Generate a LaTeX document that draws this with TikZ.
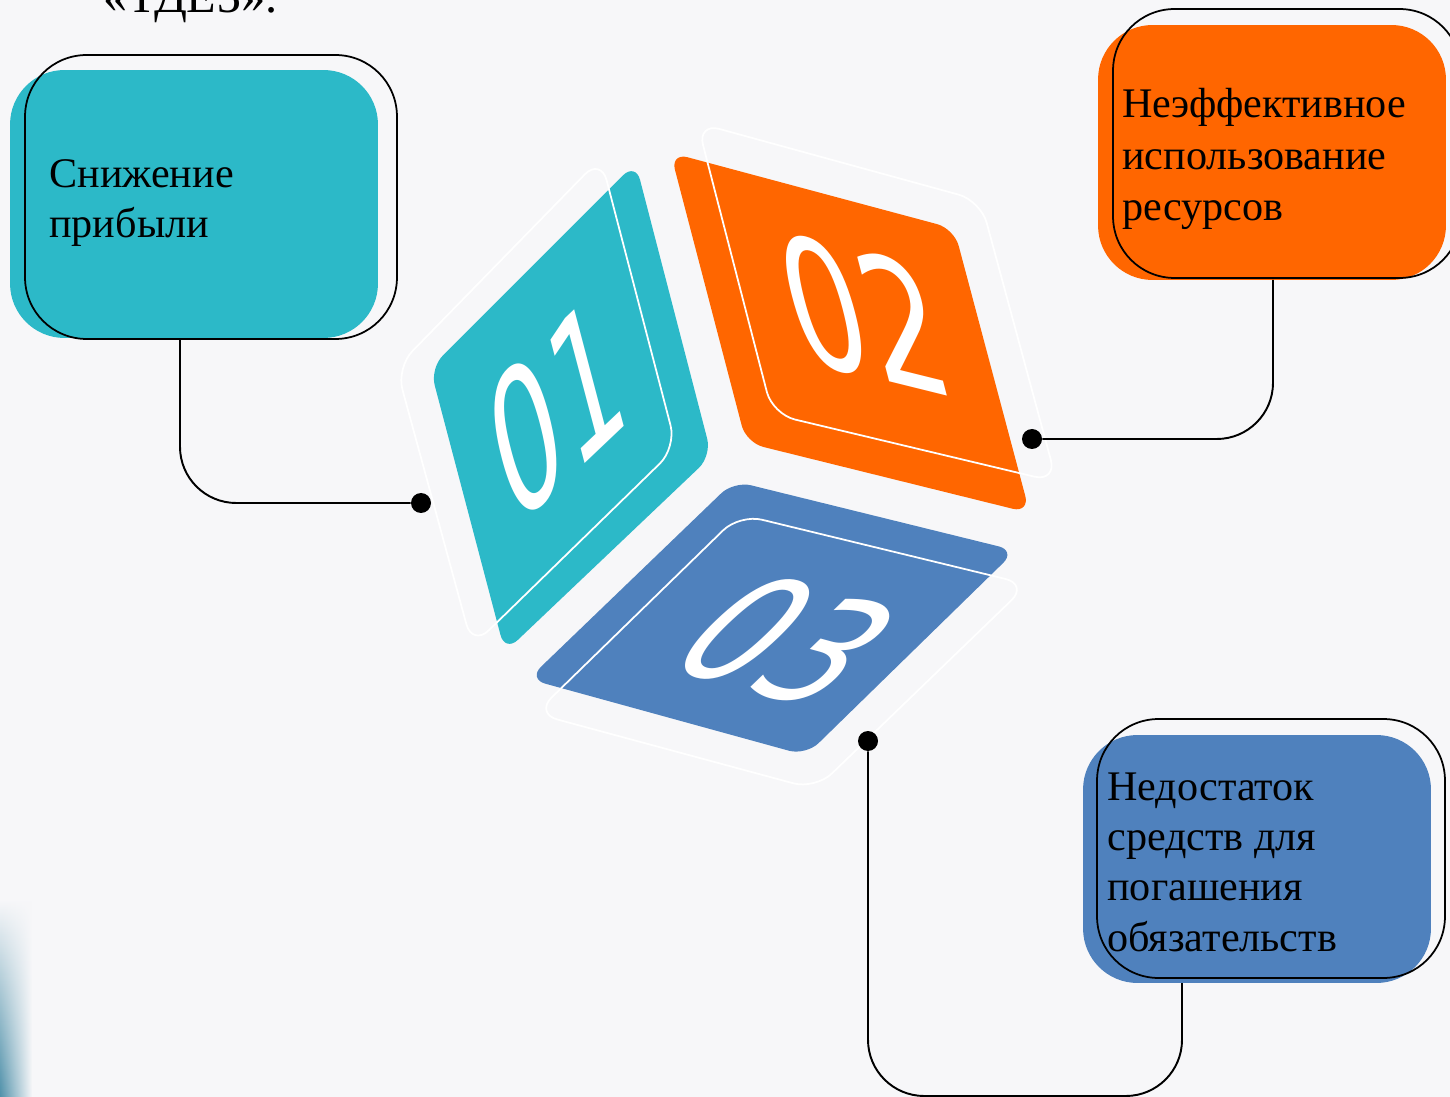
\documentclass[tikz,border=0pt]{standalone}
\usepackage{fontspec}
\setmainfont{Liberation Serif}
\newfontfamily\numfont{DejaVu Sans}
\usetikzlibrary{fadings}
\definecolor{bgc}{HTML}{F7F7F9}
\definecolor{tealc}{HTML}{2CB9C8}
\definecolor{orangec}{HTML}{FF6600}
\definecolor{bluec}{HTML}{4F81BD}
\definecolor{mintc}{RGB}{110,200,195}
\definecolor{deepc}{RGB}{80,145,170}
\begin{document}
\begin{tikzpicture}[x=0.02cm,y=-0.02cm,
  fillbox/.style={rectangle, fill=#1, rounded corners=31pt, inner sep=0},
  linebox/.style={rectangle, draw=black, line width=1pt, rounded corners=35pt, inner sep=0},
  label/.style={anchor=base west, inner sep=0, font=\fontsize{24}{#1}\selectfont},
  face/.style={fill=#1, rounded corners=10pt},
  ghost/.style={draw=white, line width=1pt, rounded corners=13pt},
  digit/.style={transform shape, text=white, inner sep=0, font=\numfont\fontsize{100}{100}\selectfont},
  conn/.style={draw=black, line width=1.1pt, rounded corners=32pt},
  dot/.style={circle, fill=black, inner sep=0, minimum size=0.4cm}]
\useasboundingbox (0,0) rectangle (1450,1097);
\clip (0,0) rectangle (1450,1097);
\fill[bgc] (0,0) rectangle (1450,1097);

% decoration at bottom left
\shade[top color=bgc, middle color=mintc, bottom color=deepc, path fading=east]
  (0,900) rectangle (32,1097);

% cut title
\node[anchor=base west, inner sep=0, font=\fontsize{27.5}{30}\selectfont] (ttl) at (103,13) {«ТДЕЗ».};

% text boxes
\node[fillbox=tealc, minimum width=7.36cm, minimum height=5.36cm] (b1f) at (194,204) {};
\node[linebox, minimum width=7.44cm, minimum height=5.68cm] (b1o) at (211,197) {};
\node[label=28.3pt] (t1) at (49,188) {\begin{tabular}[t]{@{}l@{}}Снижение\\прибыли\end{tabular}};

\node[fillbox=orangec, minimum width=6.96cm, minimum height=5.1cm] (b2f) at (1272,152.5) {};
\node[linebox, minimum width=6.96cm, minimum height=5.38cm] (b2o) at (1287,143.5) {};
\node[label=29.2pt] (t2) at (1122,118) {\begin{tabular}[t]{@{}l@{}}Неэффективное\\использование\\ресурсов\end{tabular}};

\node[fillbox=bluec, minimum width=6.96cm, minimum height=4.96cm] (b3f) at (1257,859) {};
\node[linebox, minimum width=6.96cm, minimum height=5.18cm] (b3o) at (1271,848.5) {};
\node[label=28.7pt] (t3) at (1107,800) {\begin{tabular}[t]{@{}l@{}}Недостаток\\средств для\\погашения\\обязательств\end{tabular}};

% cube faces
\path[face=tealc] (635.6,162.8) -- (711.6,455.8) -- (505.0,652.1) -- (430.2,368.2) -- cycle;
\path[face=orangec] (670.5,152.7) -- (954.1,228.7) -- (1029.8,513.0) -- (746.2,442.7) -- cycle;
\path[face=bluec] (733.9,481.1) -- (1015.8,550.6) -- (806.0,755.4) -- (528.3,679.0) -- cycle;

% ghost outlines
\path[ghost] (600.8,158.0) -- (676.3,447.5) -- (472.4,646.3) -- (396.4,367.5) -- cycle;
\path[ghost] (697.3,122.9) -- (980.7,200.7) -- (1056.8,482.0) -- (772.6,414.2) -- cycle;
\path[ghost] (739.6,514.3) -- (1027.9,584.4) -- (815.5,789.3) -- (535.2,713.5) -- cycle;

% numbers
\begin{scope}[shift={(555.8,408.8)}, cm={0.530,0.5035,-0.2693,1.022,(0,0)}]
  \node[digit] (n1) at (0,0) {01};
\end{scope}
\begin{scope}[shift={(863.7,314.5)}, cm={0.7095,-0.1759,-0.2669,1.0228,(0,0)}]
  \node[digit] (n2) at (0,0) {02};
\end{scope}
\begin{scope}[shift={(786.9,640.4)}, cm={0.7048,-0.1939,0.7616,0.733,(0,0)}]
  \node[digit] (n3) at (0,0) {03};
\end{scope}

% connectors
\coordinate (c1) at (180,340);
\coordinate (c2) at (1273,280);
\coordinate (c3) at (1182,983);
\coordinate (c3b) at (868,1096);
\node[dot] (d1) at (421,503) {};
\node[dot] (d2) at (1032,439) {};
\node[dot] (d3) at (868,741) {};
\draw[conn] (c1) |- (d1);
\draw[conn] (c2) |- (d2);
\draw[conn] (c3) -- (c3 |- c3b) -- (c3b) -- (d3);
\end{tikzpicture}
\end{document}
